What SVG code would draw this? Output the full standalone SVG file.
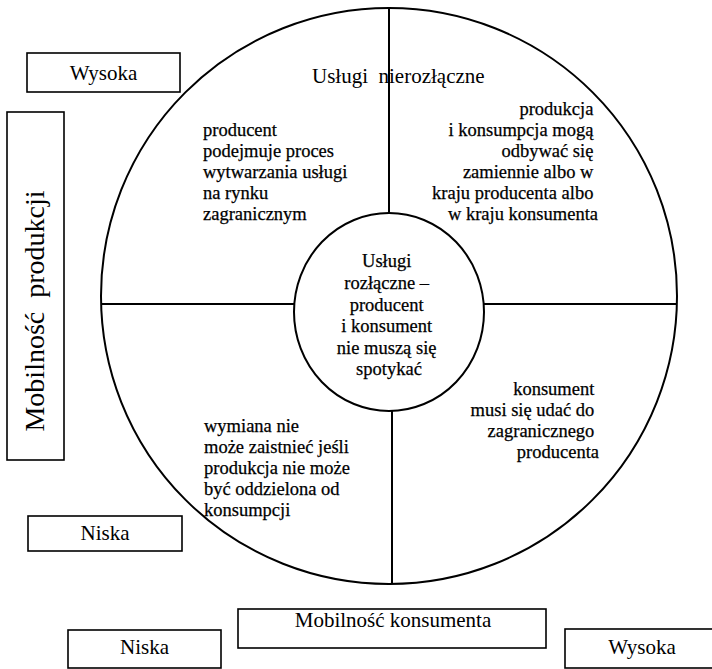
<svg xmlns="http://www.w3.org/2000/svg" width="712" height="669" viewBox="0 0 712 669">
  <style>
    .box { fill: #fff; stroke: #000; stroke-width: 1.6; }
    .ring { fill: none; stroke: #000; stroke-width: 2; }
    .div { stroke: #000; stroke-width: 2; fill: none; }
    .lbl { font-family: "Liberation Serif", "Times New Roman", serif; font-size: 21px; fill: #000; }
    .txt { font-family: "Liberation Serif", "Times New Roman", serif; font-size: 18.5px; fill: #000; stroke: #000; stroke-width: 0.25; }
    .mid { text-anchor: middle; }
    .end { text-anchor: end; }
  </style>
  <rect width="712" height="669" fill="#fff"/>

  <!-- outer ring split into four service quadrants -->
  <g id="outer-ring">
    <circle class="ring" cx="389" cy="296" r="288"/>
  </g>

  <!-- dividers between quadrants -->
  <g id="connectors">
    <line class="div" x1="101" y1="304" x2="294" y2="304"/>
    <line class="div" x1="484" y1="304" x2="677" y2="304"/>
    <line class="div" x1="389" y1="8" x2="389" y2="213"/>
    <line class="div" x1="392" y1="411" x2="392" y2="584"/>
  </g>

  <!-- centre: separable services -->
  <g id="center">
    <ellipse class="ring" cx="389" cy="312" rx="95" ry="99" fill="#fff"/>
    <text class="txt mid" x="389">
      <tspan x="389" y="267">Usługi</tspan>
      <tspan x="389" y="289">rozłączne –</tspan>
      <tspan x="389" y="311">producent</tspan>
      <tspan x="389" y="332">i konsument</tspan>
      <tspan x="389" y="354">nie muszą się</tspan>
      <tspan x="389" y="375">spotykać</tspan>
    </text>
  </g>

  <g id="title-top">
    <text class="lbl" x="312" y="83" xml:space="preserve">Usługi  nierozłączne</text>
  </g>

  <g id="quadrant-top-left">
    <text class="txt">
      <tspan x="203" y="136">producent</tspan>
      <tspan x="203" y="157">podejmuje proces</tspan>
      <tspan x="203" y="178">wytwarzania usługi</tspan>
      <tspan x="203" y="199">na rynku</tspan>
      <tspan x="203" y="220">zagranicznym</tspan>
    </text>
  </g>

  <g id="quadrant-top-right">
    <text class="txt end">
      <tspan x="598" y="115">produkcja</tspan>
      <tspan x="598" y="136">i konsumpcja mogą</tspan>
      <tspan x="598" y="157">odbywać się</tspan>
      <tspan x="598" y="178">zamiennie albo w</tspan>
      <tspan x="598" y="199">kraju producenta albo</tspan>
      <tspan x="598" y="220">w kraju konsumenta</tspan>
    </text>
  </g>

  <g id="quadrant-bottom-left">
    <text class="txt">
      <tspan x="204" y="432">wymiana nie</tspan>
      <tspan x="204" y="453">może zaistnieć jeśli</tspan>
      <tspan x="204" y="474">produkcja nie może</tspan>
      <tspan x="204" y="495">być oddzielona od</tspan>
      <tspan x="204" y="516">konsumpcji</tspan>
    </text>
  </g>

  <g id="quadrant-bottom-right">
    <text class="txt end">
      <tspan x="599" y="395">konsument</tspan>
      <tspan x="599" y="416">musi się udać do</tspan>
      <tspan x="599" y="437">zagranicznego</tspan>
      <tspan x="599" y="458">producenta</tspan>
    </text>
  </g>

  <!-- axis: production mobility -->
  <g id="prod-high">
    <rect class="box" x="27" y="53" width="153" height="39"/>
    <text class="lbl mid" x="103.5" y="80">Wysoka</text>
  </g>
  <g id="prod-axis">
    <rect class="box" x="7" y="112" width="57" height="348"/>
    <text class="lbl mid" style="font-size:28px" transform="translate(44 311) rotate(-90)" xml:space="preserve">Mobilność  produkcji</text>
  </g>
  <g id="prod-low">
    <rect class="box" x="28" y="516" width="154" height="35"/>
    <text class="lbl mid" x="105" y="540">Niska</text>
  </g>

  <!-- axis: consumer mobility -->
  <g id="cons-axis">
    <rect class="box" x="238" y="609" width="308" height="39"/>
    <text class="lbl mid" x="393" y="627">Mobilność konsumenta</text>
  </g>
  <g id="cons-low">
    <rect class="box" x="68" y="630" width="153" height="38"/>
    <text class="lbl mid" x="144.5" y="654">Niska</text>
  </g>
  <g id="cons-high">
    <rect class="box" x="565" y="629" width="150" height="39"/>
    <text class="lbl mid" x="642" y="654">Wysoka</text>
  </g>
</svg>
